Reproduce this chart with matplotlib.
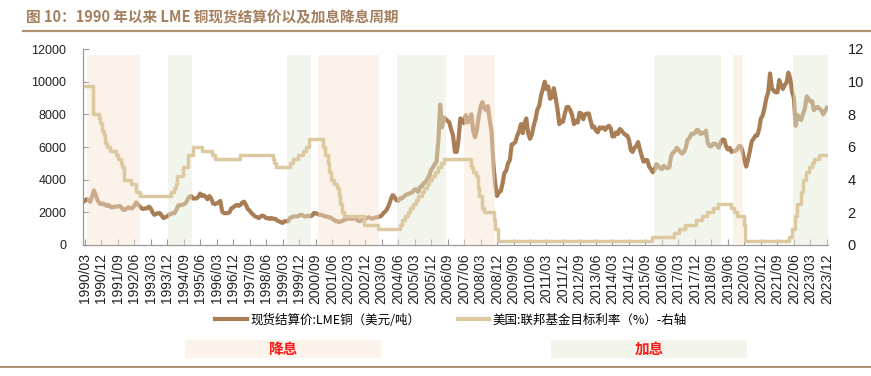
import matplotlib.pyplot as plt
import matplotlib.lines as mlines
import matplotlib.patches as mpatches
import pandas as pd

plt.rcParams['font.family'] = ['Liberation Sans', 'Noto Sans CJK SC', 'DejaVu Sans']

# LME copper cash settlement, USD/t, monthly 1990/03 - 2023/12
copper_by_year = {
    1990: [2700, 2800, 2750, 2650, 2950, 3350, 3050, 2750, 2550, 2500],
    1991: [2550, 2450, 2400, 2450, 2350, 2300, 2350, 2350, 2350, 2400, 2300, 2150],
    1992: [2150, 2250, 2300, 2250, 2250, 2400, 2600, 2500, 2350, 2250, 2200, 2250],
    1993: [2250, 2350, 2250, 2000, 1850, 1900, 1950, 1950, 1800, 1650, 1700, 1750],
    1994: [1850, 1900, 1950, 1950, 2150, 2400, 2450, 2450, 2500, 2550, 2750, 2950],
    1995: [3000, 2850, 2850, 2850, 2950, 3150, 3000, 3050, 2950, 2800, 3000, 2850],
    1996: [2550, 2500, 2550, 2600, 2700, 2050, 1950, 1950, 1950, 2000, 2250, 2300],
    1997: [2400, 2450, 2400, 2450, 2600, 2650, 2450, 2200, 2100, 1950, 1850, 1750],
    1998: [1700, 1650, 1750, 1800, 1750, 1650, 1650, 1600, 1650, 1600, 1600, 1500],
    1999: [1450, 1400, 1350, 1450, 1450, 1450, 1650, 1700, 1750, 1750, 1750, 1800],
    2000: [1850, 1800, 1750, 1750, 1800, 1750, 1800, 1950, 1950, 1900, 1850, 1850],
    2001: [1800, 1750, 1750, 1700, 1700, 1600, 1550, 1450, 1450, 1400, 1450, 1500],
    2002: [1550, 1600, 1650, 1600, 1600, 1650, 1600, 1500, 1450, 1500, 1600, 1600],
    2003: [1650, 1700, 1650, 1600, 1650, 1700, 1700, 1750, 1800, 1950, 2050, 2200],
    2004: [2450, 2800, 3050, 2950, 2750, 2700, 2850, 2850, 2950, 3050, 3100, 3150],
    2005: [3200, 3250, 3400, 3400, 3250, 3550, 3600, 3800, 3850, 4050, 4250, 4600],
    2006: [4750, 4950, 5100, 6400, 8600, 7200, 7800, 7700, 7600, 7500, 7050, 6700],
    2007: [5700, 5700, 6450, 7750, 7650, 7450, 7950, 7500, 7650, 8000, 6950, 6600],
    2008: [7050, 7900, 8450, 8750, 8400, 8250, 8500, 7650, 6950, 4950, 3700, 3000],
    2009: [3250, 3300, 3750, 4400, 4550, 5000, 5200, 6150, 6200, 6300, 6700, 6950],
    2010: [7400, 6850, 7450, 7750, 6850, 6500, 6750, 7300, 7700, 8300, 8500, 9150],
    2011: [9550, 10000, 9550, 9700, 8950, 9050, 9600, 9000, 8300, 7400, 7550, 7550],
    2012: [8050, 8450, 8450, 8250, 7950, 7400, 7600, 7500, 8100, 8050, 7700, 8000],
    2013: [8050, 8050, 7650, 7200, 7250, 7000, 6900, 7200, 7150, 7200, 7050, 7200],
    2014: [7300, 7150, 6650, 6650, 6900, 6800, 7100, 7000, 6850, 6750, 6700, 6450],
    2015: [5800, 5700, 5950, 6050, 6300, 5850, 5450, 5100, 5200, 5200, 4800, 4650],
    2016: [4450, 4600, 4950, 4850, 4700, 4650, 4850, 4750, 4700, 4750, 5450, 5650],
    2017: [5750, 5950, 5850, 5700, 5600, 5700, 5950, 6450, 6550, 6800, 6800, 6850],
    2018: [7050, 7000, 6800, 6850, 6850, 7000, 6250, 6050, 6050, 6200, 6200, 6100],
    2019: [5950, 6300, 6450, 6450, 6050, 5850, 5950, 5700, 5750, 5750, 5850, 6050],
    2020: [6050, 5700, 5200, 4800, 5250, 5750, 6350, 6500, 6700, 6700, 7100, 7750],
    2021: [7950, 8450, 9000, 9350, 10500, 9600, 9450, 9350, 9350, 10100, 9750, 9550],
    2022: [9800, 9950, 10550, 10200, 9400, 9000, 7300, 7950, 7750, 7650, 8050, 8350],
    2023: [9100, 8950, 8800, 8800, 8250, 8400, 8450, 8350, 8250, 8000, 8200, 8400],
}
copper = [v for yr in sorted(copper_by_year) for v in copper_by_year[yr]]
months = pd.date_range('1990-03-01', periods=len(copper), freq='MS')

# Fed funds target rate (%), change dates
fed_dates = ['1990-03-01', '1990-07-13', '1990-10-29', '1990-11-13', '1990-12-07', '1990-12-18',
             '1991-01-09', '1991-02-01', '1991-03-08', '1991-04-30', '1991-08-06', '1991-09-13',
             '1991-10-31', '1991-11-06', '1991-12-06', '1991-12-20', '1992-04-09', '1992-07-02',
             '1992-09-04', '1994-02-04', '1994-03-22', '1994-04-18', '1994-05-17', '1994-08-16',
             '1994-11-15', '1995-02-01', '1995-07-06', '1995-12-19', '1996-01-31', '1997-03-25',
             '1998-09-29', '1998-10-15', '1998-11-17', '1999-06-30', '1999-08-24', '1999-11-16',
             '2000-02-02', '2000-03-21', '2000-05-16', '2001-01-03', '2001-01-31', '2001-03-20',
             '2001-04-18', '2001-05-15', '2001-06-27', '2001-08-21', '2001-09-17', '2001-10-02',
             '2001-11-06', '2001-12-11', '2002-11-06', '2003-06-25', '2004-06-30', '2004-08-10',
             '2004-09-21', '2004-11-10', '2004-12-14', '2005-02-02', '2005-03-22', '2005-05-03',
             '2005-06-30', '2005-08-09', '2005-09-20', '2005-11-01', '2005-12-13', '2006-01-31',
             '2006-03-28', '2006-05-10', '2006-06-29', '2007-09-18', '2007-10-31', '2007-12-11',
             '2008-01-22', '2008-01-30', '2008-03-18', '2008-04-30', '2008-10-08', '2008-10-29',
             '2008-12-16', '2015-12-16', '2016-12-14', '2017-03-15', '2017-06-14', '2017-12-13',
             '2018-03-21', '2018-06-13', '2018-09-26', '2018-12-19', '2019-07-31', '2019-09-18',
             '2019-10-30', '2020-03-03', '2020-03-15', '2022-03-16', '2022-05-04', '2022-06-15',
             '2022-07-27', '2022-09-21', '2022-11-02', '2022-12-14', '2023-02-01', '2023-03-22',
             '2023-05-03', '2023-07-26', '2023-12-31']
fed_rates = [9.75, 8.0, 7.75, 7.5, 7.25, 7.0,
             6.75, 6.25, 6.0, 5.75, 5.5, 5.25,
             5.0, 4.75, 4.5, 4.0, 3.75, 3.25,
             3.0, 3.25, 3.5, 3.75, 4.25, 4.75,
             5.5, 6.0, 5.75, 5.5, 5.25, 5.5,
             5.25, 5.0, 4.75, 5.0, 5.25, 5.5,
             5.75, 6.0, 6.5, 6.0, 5.5, 5.0,
             4.5, 4.0, 3.75, 3.5, 3.0, 2.5,
             2.0, 1.75, 1.25, 1.0, 1.25, 1.5,
             1.75, 2.0, 2.25, 2.5, 2.75, 3.0,
             3.25, 3.5, 3.75, 4.0, 4.25, 4.5,
             4.75, 5.0, 5.25, 4.75, 4.5, 4.25,
             3.5, 3.0, 2.25, 2.0, 1.5, 1.0,
             0.25, 0.5, 0.75, 1.0, 1.25, 1.5,
             1.75, 2.0, 2.25, 2.5, 2.25, 2.0,
             1.75, 1.25, 0.25, 0.5, 1.0, 1.75,
             2.5, 3.25, 4.0, 4.5, 4.75, 5.0,
             5.25, 5.5, 5.5]

# easing (降息) and tightening (加息) periods
cut_periods = [('1990-04-15', '1992-09-10'), ('2000-10-15', '2003-07-20'),
               ('2007-06-01', '2008-10-20'), ('2019-09-01', '2020-02-10')]
hike_periods = [('1993-12-15', '1995-01-10'), ('1999-05-15', '2000-06-10'),
                ('2004-05-10', '2006-08-10'), ('2016-01-25', '2019-02-10'),
                ('2022-05-10', '2023-12-31')]

copper_color = '#A97E55'
fed_color = '#DCC9A0'
brown = '#B09170'

fig = plt.figure(figsize=(8.71, 3.76), dpi=100)
ax = fig.add_axes([83 / 871, 1 - 245 / 376, 745 / 871, 196 / 376])

ax.plot(months, copper, color=copper_color, lw=3.0, zorder=2)
for a, b in cut_periods:
    ax.axvspan(pd.Timestamp(a), pd.Timestamp(b), ymin=0, ymax=0.97,
               color=(248/255, 228/255, 208/255), alpha=0.45, lw=0, zorder=3)
for a, b in hike_periods:
    ax.axvspan(pd.Timestamp(a), pd.Timestamp(b), ymin=0, ymax=0.97,
               color=(228/255, 233/255, 213/255), alpha=0.45, lw=0, zorder=3)

ax.set_ylim(0, 12000)
ax.set_yticks(range(0, 12001, 2000))
ax.set_xlim(pd.Timestamp('1990-02-01'), pd.Timestamp('2023-12-20'))
xt = pd.date_range('1990-03-01', '2023-12-01', freq='9MS')
ax.set_xticks(xt)
ax.set_xticklabels([d.strftime('%Y/%m') for d in xt], rotation=90)
ax.tick_params(axis='x', direction='in', length=4, width=0.8, color='#999999',
               labelsize=10, pad=6, labelcolor='#222222')
ax.tick_params(axis='y', direction='in', length=4, width=0.8, color='#999999',
               labelsize=9, pad=12, labelcolor='#222222')
for s in ['top', 'right']:
    ax.spines[s].set_visible(False)
for s in ['left', 'bottom']:
    ax.spines[s].set_color('#999999')
    ax.spines[s].set_linewidth(0.9)

ax2 = ax.twinx()
ax2.plot(pd.to_datetime(fed_dates), fed_rates, drawstyle='steps-post',
         color=fed_color, lw=2.5)
ax2.set_ylim(0, 12)
ax2.set_yticks(range(0, 13, 2))
ax2.tick_params(axis='y', length=0, labelsize=10.5, pad=14, labelcolor='#222222')
for s in ax2.spines.values():
    s.set_visible(False)

# legend
h1 = mlines.Line2D([], [], color=copper_color, lw=3)
h2 = mlines.Line2D([], [], color=fed_color, lw=3)
fig.legend([h1, h2], ['现货结算价:LME铜（美元/吨）', '美国:联邦基金目标利率（%）-右轴'],
           loc='center', bbox_to_anchor=(0.518, 1 - 320 / 376), ncol=2, frameon=False,
           prop={'family': ['Noto Sans CJK SC'], 'size': 9},
           handlelength=2.5, handletextpad=0.3, columnspacing=3.0)

# period key boxes
fig.patches.append(mpatches.Rectangle((185 / 871, 1 - 358 / 376), 196 / 871, 18 / 376,
                                      transform=fig.transFigure, color='#FCF3EA', lw=0))
fig.patches.append(mpatches.Rectangle((551 / 871, 1 - 358 / 376), 196 / 871, 18 / 376,
                                      transform=fig.transFigure, color='#F3F5EC', lw=0))
fig.text(283 / 871, 1 - 349 / 376, '降息', color='#FF1A1A', fontsize=10.5, fontweight='bold',
         ha='center', va='center', family=['Noto Sans CJK SC'])
fig.text(649 / 871, 1 - 349 / 376, '加息', color='#FF1A1A', fontsize=10.5, fontweight='bold',
         ha='center', va='center', family=['Noto Sans CJK SC'])

# title and rules
fig.text(26 / 871, 1 - 17 / 376, '图 10：1990 年以来 LME 铜现货结算价以及加息降息周期',
         color='#A47F5E', fontsize=10.5, fontweight='bold', ha='left', va='center',
         family=['Noto Sans CJK SC', 'DejaVu Sans'])
fig.add_artist(mlines.Line2D([23 / 871, 1], [1 - 30.5 / 376, 1 - 30.5 / 376],
                             transform=fig.transFigure, color=brown, lw=1.6))
fig.add_artist(mlines.Line2D([0, 1], [1 - 367 / 376, 1 - 367 / 376],
                             transform=fig.transFigure, color=brown, lw=1.4))

fig.savefig('out.png', dpi=100)
